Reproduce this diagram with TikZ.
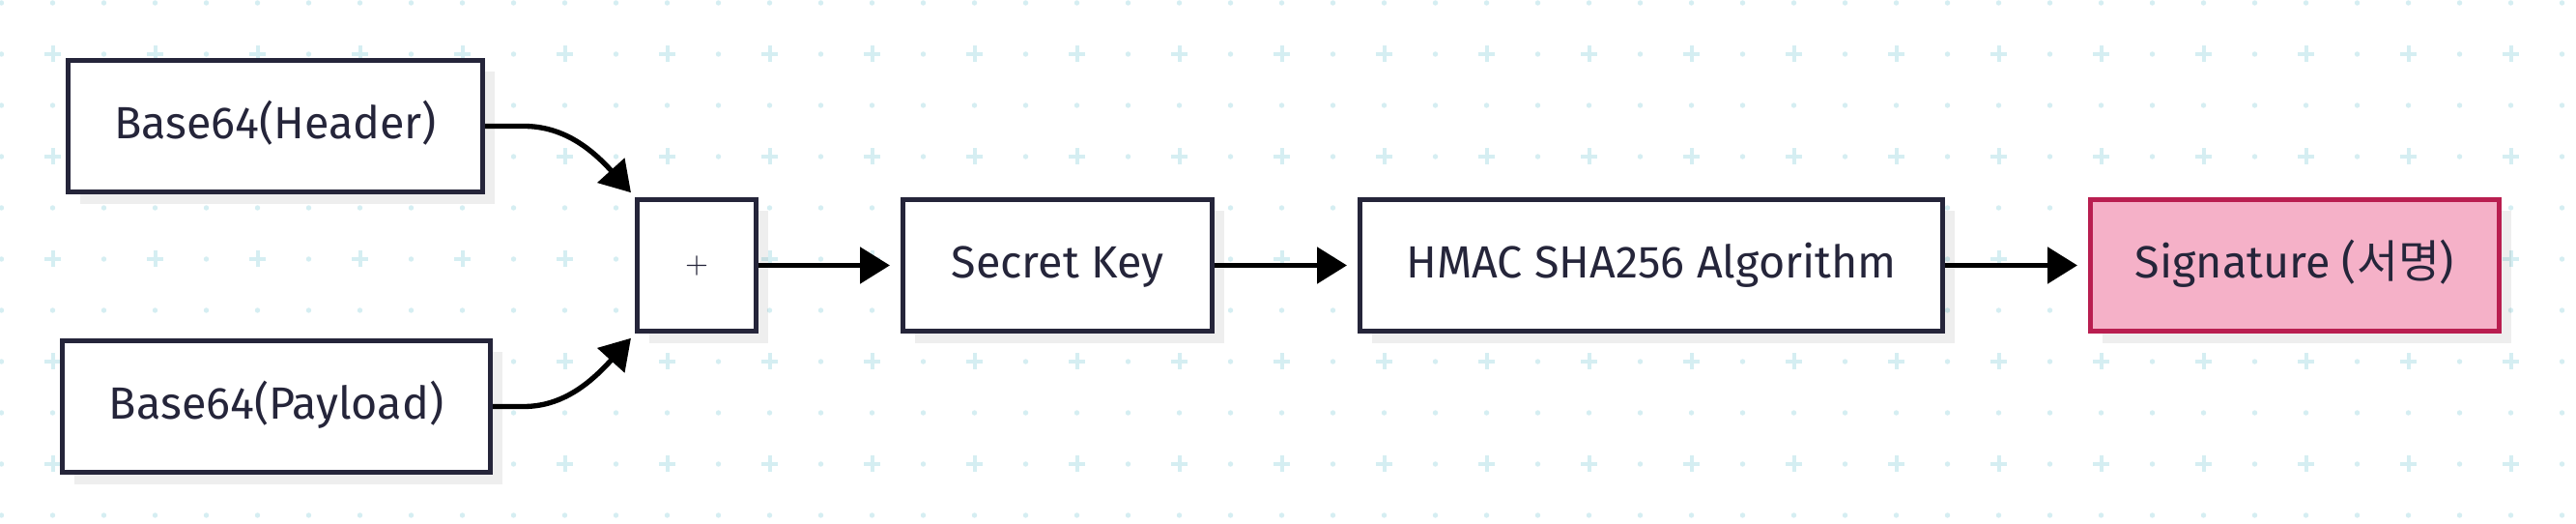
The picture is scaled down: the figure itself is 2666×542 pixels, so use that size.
\documentclass[tikz,border=0pt]{standalone}
\usepackage{fontspec}
\setmainfont{Fira Sans}
\newfontfamily\krfont{Noto Sans CJK KR}
\usetikzlibrary{arrows.meta,shadows}

\definecolor{inkline}{HTML}{25253A}
\definecolor{gridblue}{HTML}{D5EEF2}
\definecolor{sigfill}{HTML}{F5B1C8}
\definecolor{sigline}{HTML}{B91E50}

\tikzset{every picture/.style={line width=1.5pt}}
\tikzset{
  box/.style={draw=inkline, fill=white, line width=1.5pt, inner sep=0pt,
    minimum height=41pt, text=inkline, font=\fontsize{14}{16}\selectfont,
    text height=9.6pt, text depth=1.8pt,
    drop shadow={shadow xshift=3.6pt, shadow yshift=-3.6pt, fill=black, opacity=0.065}},
  sigbox/.style={box, draw=sigline, fill=sigfill},
  flow/.style={draw=black, line width=1.6pt, -{Triangle[length=9.3pt,width=11.1pt]}},
}

\begin{document}
\begin{tikzpicture}[x=0.3pt,y=0.3pt,yscale=-1,xscale=1]
\useasboundingbox (0,0) rectangle (2666,542);
\fill[white] (0,0) rectangle (2666,542);

%Pattern: dots and crosses
\foreach \j in {0,...,10}{
  \foreach \k in {0,...,50}{
    \pgfmathsetmacro\gx{1.5+53*\k}
    \pgfmathsetmacro\gy{3+53*\j}
    \pgfmathparse{int(mod(\j,2)*mod(\k,2))}
    \ifnum\pgfmathresult=1
      \draw[gridblue, line width=1.2pt] (\gx,\gy) +(-8.5,0) -- +(8.5,0) +(0,-8.5) -- +(0,8.5);
    \else
      \fill[gridblue] (\gx,\gy) circle[radius=2.7];
    \fi
  }
}

%Shape: Rectangle
\node[box, minimum width=128.7pt] (header) at (285,130.5) {Base64(Header)};
\node[box, minimum width=132.9pt] (payload) at (286,420.5) {Base64(Payload)};
\node[box, minimum width=36.9pt, text height=4.6pt, text depth=0pt] (plus) at (721,274.5) {\fontsize{9}{10}\selectfont$+$};
\node[box, minimum width=96pt] (secret) at (1094.5,274.5) {Secret Key};
\node[box, minimum width=180.9pt] (hmac) at (1709,274.5) {HMAC SHA256 Algorithm};
\node[sigbox, minimum width=126.9pt] (sig) at (2375,274.5) {Signature ({\krfont 서명})};

%Straight Lines
\draw[flow, shorten >=1.8pt] (header.east) -- ++(40,0) .. controls +(40,0) and +(-46,-51) .. (plus.north west);
\draw[flow, shorten >=1.8pt] (payload.east) -- ++(32,0) .. controls +(40,0) and +(-46,51) .. (plus.south west);
\draw[flow, shorten >=3.3pt] (plus.east) -- (secret.west);
\draw[flow, shorten >=3.3pt] (secret.east) -- (hmac.west);
\draw[flow, shorten >=3.3pt] (hmac.east) -- (sig.west);

\end{tikzpicture}
\end{document}
